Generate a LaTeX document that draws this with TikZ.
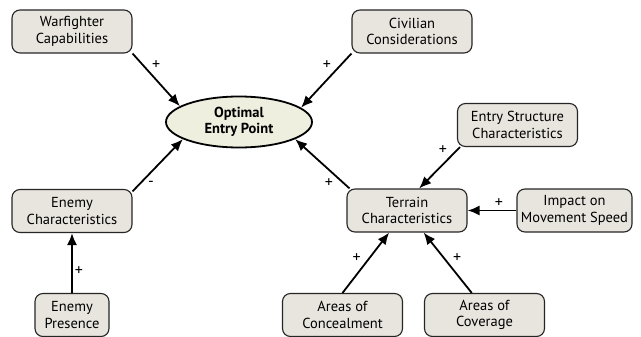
\documentclass[tikz,border=0pt]{standalone}
\usepackage{fontspec}
\setmainfont{PT Sans}
\usetikzlibrary{shapes.geometric,arrows.meta}

\definecolor{boxfill}{HTML}{E8E4DE}
\definecolor{goalfill}{HTML}{EFEFDF}

\begin{document}
\begin{tikzpicture}[x=1pt,y=-1pt,
every node/.style={%
    font=\fontsize{14.5}{16.5}\selectfont, align=center
    },
factor/.style={draw=black!85, line width=1.1pt, fill=boxfill, rounded corners=8pt,
    minimum width=120pt, minimum height=43pt, inner sep=2pt},
goal/.style={ellipse, draw=black, line width=1.8pt, fill=goalfill,
    minimum width=146pt, minimum height=51pt, inner sep=0pt, font=\fontsize{14.5}{16.5}\selectfont\bfseries},
link/.style={line width=1.8pt, -{Latex[length=12pt,width=10pt]}},
sign/.style={font=\fontsize{16}{16}\selectfont, inner sep=2pt}
]
\useasboundingbox (0,0) rectangle (641,337);

\node[goal] (ept) at (239,122) {Optimal\\Entry Point};

\node[factor] (wfc) at (72,31.5) {Warfighter\\Capabilities};
\node[factor] (civ) at (412,31.5) {Civilian\\Considerations};
\node[factor] (esc) at (517.5,125) {Entry Structure\\Characteristics};
\node[factor] (enc) at (72,211) {Enemy\\Characteristics};
\node[factor] (ter) at (407,210.5) {Terrain\\Characteristics};
\node[factor, minimum width=115pt] (ims) at (574.5,210.5) {Impact on\\Movement Speed};
\node[factor, minimum width=74pt] (enp) at (72,315) {Enemy\\Presence};
\node[factor] (aoc) at (342.5,315) {Areas of\\Concealment};
\node[factor] (cov) at (484.5,315) {Areas of\\Coverage};

\foreach \i/\j/\s/\p/\w in {
                  wfc.-20/ept.165.7/+/.35/above right,%
                  civ.-160/ept.13.6/+/.35/above left,%
                  enc.18.4/ept.197.3/-/.25/below right,%
                  ter.159.2/ept.-17.3/+/.25/below left,%
                  esc.-159/ter.61/+/.25/above left,%
                  ims.west/ter.east/+/.36/above,%
                  aoc.north/ter.-129/+/.45/above left,%
                  cov.120.8/ter.-53.7/+/.45/above right,%
                  enp.north/enc.south/+/.37/right%
            }
    \draw [link] (\i) -- node[sign,pos=\p,\w] {\s} (\j);

\end{tikzpicture}
\end{document}
